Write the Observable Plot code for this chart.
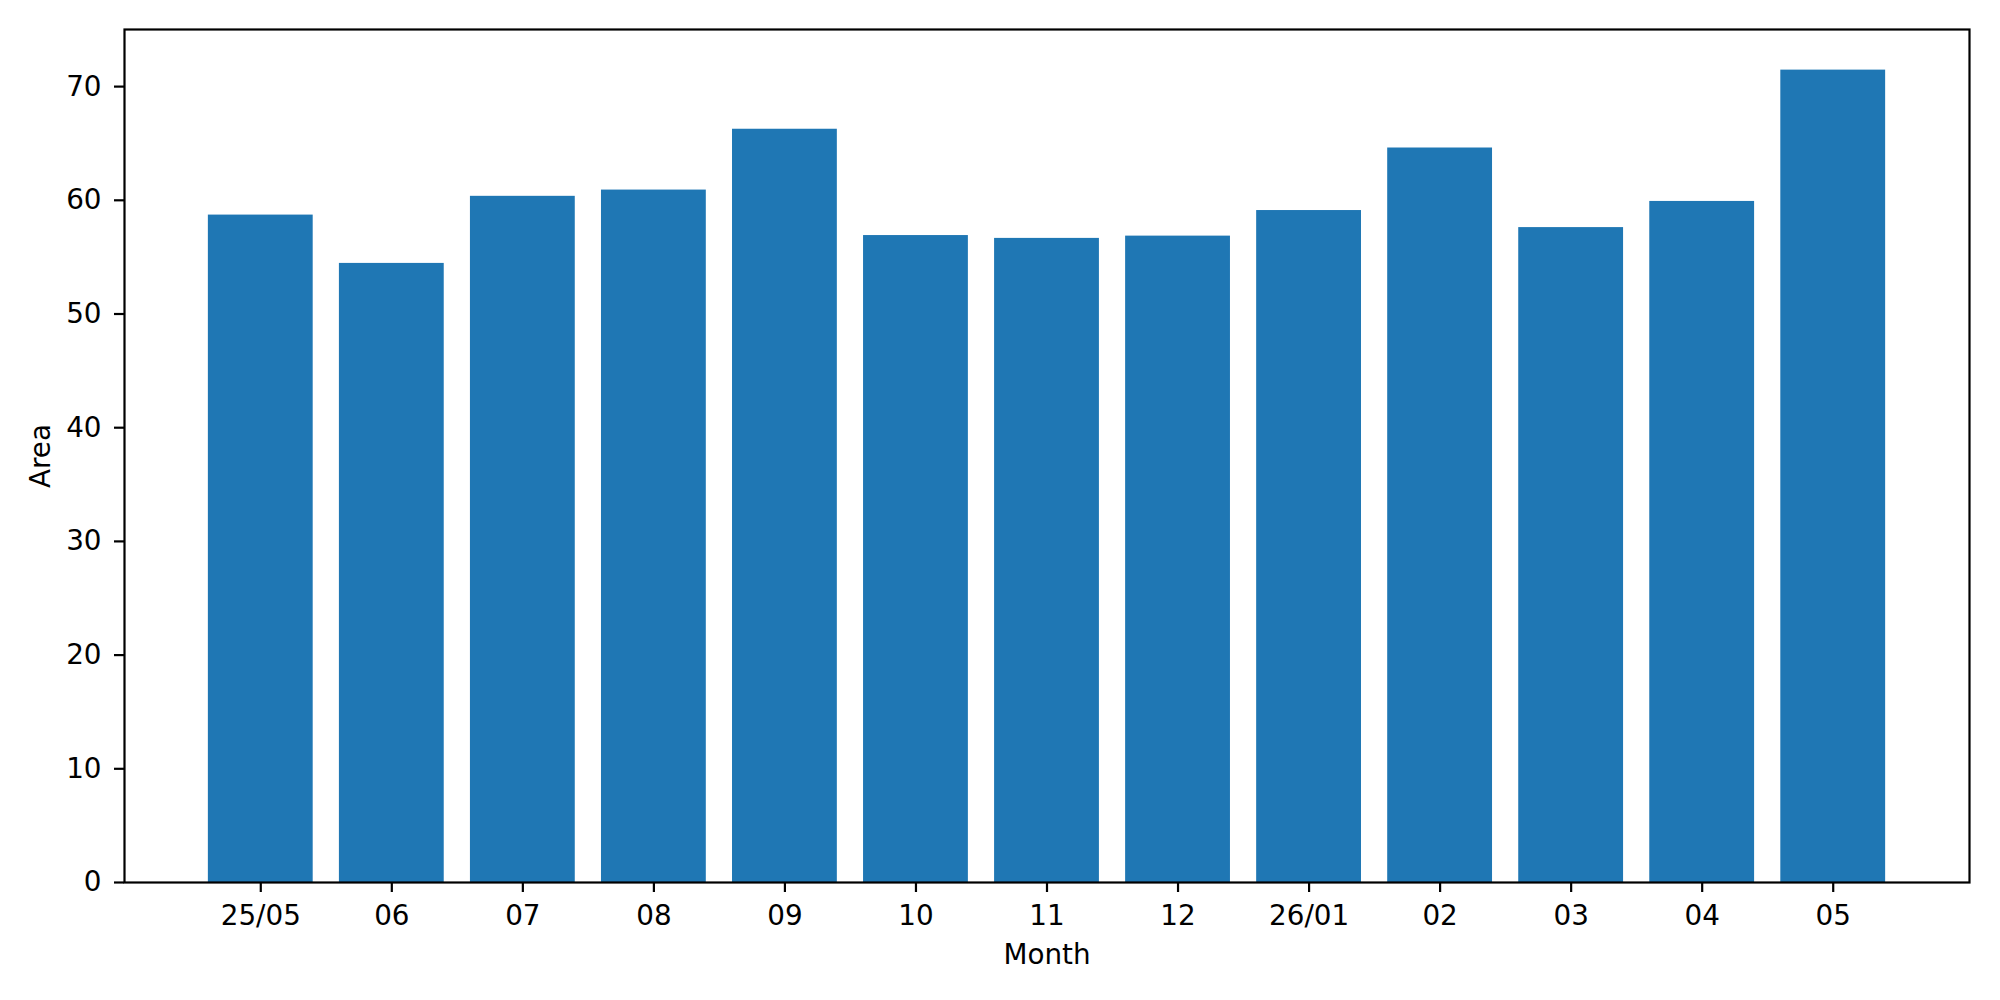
<!DOCTYPE html>
<html>
<head>
<meta charset="utf-8">
<script src="https://cdn.jsdelivr.net/npm/d3@7"></script>
<script src="https://cdn.jsdelivr.net/npm/@observablehq/plot@0.6"></script>
<style>
  html, body { margin: 0; padding: 0; background: #fff; }
  #chart svg { display: block; }
</style>
</head>
<body>
<div id="chart"></div>
<script>
const months = ["25/05", "06", "07", "08", "09", "10", "11", "12", "26/01", "02", "03", "04", "05"];
const areas = [58.7, 54.45, 60.35, 60.9, 66.25, 56.9, 56.65, 56.85, 59.1, 64.6, 57.6, 59.9, 71.45];
const yTicks = [0, 10, 20, 30, 40, 50, 60, 70];
const xLabel = "Month";
const yLabel = "Area";

const data = months.map((m, i) => ({month: m, area: areas[i]}));
const yMax = d3.max(areas) * 1.05;
const fs = 27.8;

const chart = Plot.plot({
  width: 2000,
  height: 1000,
  marginLeft: 124,
  marginRight: 31,
  marginTop: 29,
  marginBottom: 118,
  style: {fontFamily: "DejaVu Sans", fontSize: fs + "px", color: "#000", background: "#fff"},
  x: {type: "band", domain: months, paddingInner: 0.2, paddingOuter: 0.64, round: false},
  y: {domain: [0, yMax], nice: false},
  marks: [
    Plot.barY(data, {x: "month", y: "area", fill: "#1f77b4"}),
    Plot.frame({stroke: "#000", strokeWidth: 2.2}),
    Plot.axisY({ticks: yTicks, tickSize: 10, tickPadding: 13, strokeWidth: 2.2, label: null, fontSize: fs}),
    Plot.axisX({tickSize: 10, tickPadding: 13, strokeWidth: 2.2, label: null, fontSize: fs}),
    Plot.text([xLabel], {frameAnchor: "bottom", dy: 72.5, fontSize: fs, textAnchor: "middle", lineAnchor: "middle", fill: "#000"}),
    Plot.text([yLabel], {frameAnchor: "left", dx: -83, rotate: -90, fontSize: fs, textAnchor: "middle", lineAnchor: "middle", fill: "#000"})
  ]
});
document.getElementById("chart").appendChild(chart);
</script>
</body>
</html>
